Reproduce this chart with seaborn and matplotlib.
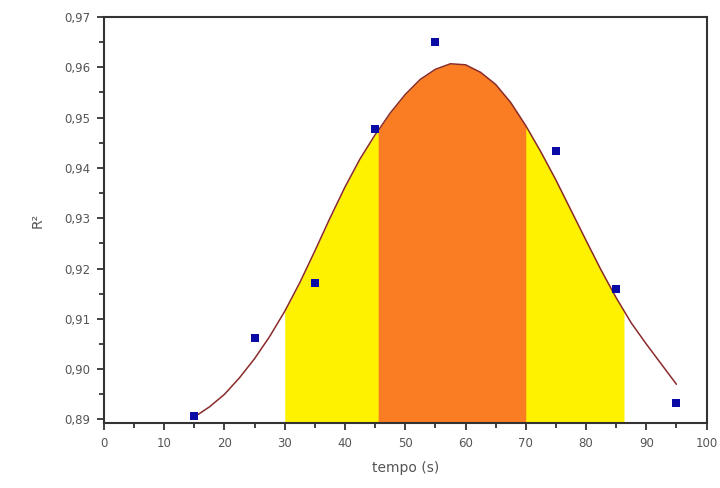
import numpy as np
import pandas as pd
import matplotlib
matplotlib.use("Agg")
import matplotlib.pyplot as plt
from matplotlib.ticker import MultipleLocator, FuncFormatter
import seaborn as sns

# Measured points (blue squares)
tempo = [15, 25, 35, 45, 55, 75, 85, 95]
r2 = [0.8907, 0.9062, 0.9172, 0.9477, 0.9651, 0.9434, 0.9159, 0.8933]

# Fitted curve
curve_x = [15, 17.5, 20, 22.5, 25, 27.5, 30, 32.5, 35, 37.5, 40, 42.5, 45, 45.5,
           47.5, 50, 52.5, 55, 57.5, 60, 62.5, 65, 67.5, 70, 72.5, 75, 77.5,
           80, 82.5, 85, 86.3, 87.5, 90, 92.5, 95]
curve_y = [0.8905, 0.8925, 0.8950, 0.8983, 0.9021, 0.9065, 0.9115, 0.9172, 0.9235,
           0.9300, 0.9362, 0.9418, 0.9466, 0.9474, 0.9509, 0.9546, 0.9576, 0.9596,
           0.9607, 0.9605, 0.9590, 0.9566, 0.9530, 0.9484, 0.9432, 0.9376, 0.9316,
           0.9256, 0.9197, 0.9142, 0.9116, 0.9092, 0.9050, 0.9010, 0.8970]

# Shaded intervals
yellow_range = (30, 86.3)
orange_range = (45.5, 70)

sns.set_style("ticks")
plt.rcParams["font.family"] = ["DejaVu Sans"]

fig = plt.figure(figsize=(7.2, 4.88), dpi=100)
ax = fig.add_axes([0.1444, 0.1332, 0.8369, 0.832])

ymin, ymax = 0.8893, 0.97
cx = np.array(curve_x)
cy = np.array(curve_y)

m_y = (cx >= yellow_range[0]) & (cx <= yellow_range[1])
ax.fill_between(cx[m_y], ymin, cy[m_y], color="#FFF200", linewidth=0, zorder=1)
m_o = (cx >= orange_range[0]) & (cx <= orange_range[1])
ax.fill_between(cx[m_o], ymin, cy[m_o], color="#FA7D24", linewidth=0, zorder=2)

df_curve = pd.DataFrame({"x": curve_x, "y": curve_y})
sns.lineplot(data=df_curve, x="x", y="y", ax=ax, color="#8A2A2A", linewidth=1.1,
             zorder=3, sort=True)

df_pts = pd.DataFrame({"tempo": tempo, "r2": r2})
sns.scatterplot(data=df_pts, x="tempo", y="r2", ax=ax, marker="s", s=34,
                color="#0A0AA5", edgecolor="none", zorder=4)

ax.set_xlim(0, 100)
ax.set_ylim(ymin, ymax)
ax.xaxis.set_major_locator(MultipleLocator(10))
ax.xaxis.set_minor_locator(MultipleLocator(5))
ax.set_yticks([0.89, 0.90, 0.91, 0.92, 0.93, 0.94, 0.95, 0.96, 0.97])
ax.yaxis.set_minor_locator(MultipleLocator(0.005))
ax.yaxis.set_major_formatter(FuncFormatter(lambda v, p: f"{v:.2f}".replace(".", ",")))
ax.xaxis.set_major_formatter(FuncFormatter(lambda v, p: f"{v:.0f}"))

ax.tick_params(axis="both", which="major", direction="out", length=5, width=1.3,
               labelsize=8.5, labelcolor="#555555", color="#333333", pad=5)
ax.tick_params(axis="both", which="minor", direction="out", length=3.5, width=1.3,
               color="#333333")
ax.tick_params(top=False, right=False, which="both")

for s in ax.spines.values():
    s.set_visible(True)
    s.set_color("#333333")
    s.set_linewidth(1.5)

ax.set_xlabel("tempo (s)", fontsize=10, color="#555555", labelpad=8)
ax.set_ylabel("R²", fontsize=10, color="#555555", labelpad=14)

fig.savefig("out.png", dpi=100)
